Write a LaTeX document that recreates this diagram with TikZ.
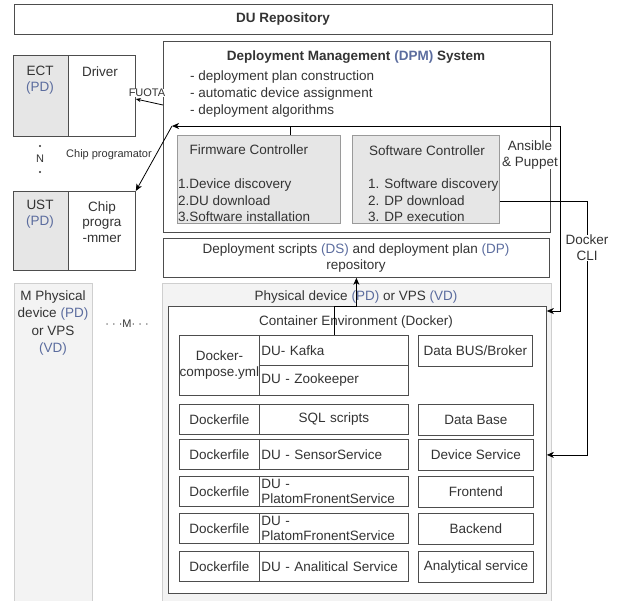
\documentclass[tikz,border=0pt]{standalone}
\usepackage{fontspec}
\setmainfont{Liberation Sans}
\usetikzlibrary{positioning, arrows.meta}
\definecolor{duText}{HTML}{333333}
\definecolor{duLine}{HTML}{4D4D4D}
\definecolor{duGray}{HTML}{E6E6E6}
\definecolor{duGrayLine}{HTML}{9A9A9A}
\definecolor{duPale}{HTML}{F3F3F3}
\definecolor{duPaleLine}{HTML}{CFCFCF}
\definecolor{duAcc}{HTML}{5B6C9E}
\newcommand{\duabbr}[1]{\textcolor{duAcc}{#1}}

\begin{document}
\begin{tikzpicture}[
  x=1pt, y=-1pt,
  every node/.style={font=\fontsize{13.5}{16}\selectfont, text=duText, inner sep=0pt},
  frame/.style={draw=duLine, line width=0.8pt, anchor=north west},
  greybox/.style={frame, fill=duGray},
  ctrlbox/.style={draw=duGrayLine, line width=0.8pt, fill=duGray, anchor=north west},
  palebox/.style={draw=duPaleLine, line width=0.8pt, fill=duPale, anchor=north west},
  cell/.style={frame, minimum height=30pt},
  headtxt/.style={font=\fontsize{13.5}{16}\selectfont\bfseries},
  tinylbl/.style={font=\fontsize{11}{13}\selectfont, fill=white},
  conn/.style={draw=black, line width=0.8pt},
  arr/.style={-{Stealth[length=7pt, width=6pt, inset=2pt]}},
]
\useasboundingbox (0,0) rectangle (617,600);

% === REPOSITORY ===
\node[frame, minimum width=538pt, minimum height=30pt] (du) at (14,4) {};
\node[headtxt] (du-txt) at (283,19) {DU Repository};

% === DPM SYSTEM ===
\node[frame, minimum width=387pt, minimum height=191pt] (dpm) at (163,41) {};
\node[headtxt] (dpm-txt) at (356,57) {Deployment Management \duabbr{(DPM)} System};
\foreach \t [count=\i] in {deployment plan construction, automatic device assignment, deployment algorithms} {
  \node[anchor=west] (dpm-\i) at (190,60+17*\i) {- \t};
}

% Controllers
\node[ctrlbox, minimum width=163pt, minimum height=88pt] (fw) at (177,135) {};
\node (fw-txt) at (249,150) {Firmware Controller};
\foreach \t [count=\i] in {1.Device discovery, 2.DU download, 3.Software installation} {
  \node[anchor=west] (fw-\i) at (178,169+16*\i) {\t};
}
\node[ctrlbox, minimum width=147pt, minimum height=88pt] (sw) at (352,135) {};
\node (sw-txt) at (427,151) {Software Controller};
\foreach \t [count=\i] in {1. Software discovery, 2. DP download, 3. DP execution} {
  \node[anchor=west] (sw-\i) at (368,169+16*\i) {\t};
}

% DS / DP repository
\node[frame, minimum width=386pt, minimum height=39pt] (ds) at (163,238) {};
\node[align=center] (ds-txt) at (356,258)
  {Deployment scripts \duabbr{(DS)} and deployment plan \duabbr{(DP)}\\repository};

% === DEVICES ON THE LEFT ===
\node[greybox, minimum width=55pt, minimum height=81pt] (ect-l) at (13,55) {};
\node[frame, minimum width=67pt, minimum height=81pt] (ect-r) at (68,55) {};
\node[align=center] (ect-txt) at (40,80) {ECT\\\duabbr{(PD)}};
\node (drv-txt) at (100,72) {Driver};

\node[circle, fill=duText, minimum size=2.4pt] (n-dot1) at (40,146) {};
\node[font=\fontsize{11}{13}\selectfont] (n-txt) at (40,159) {N};
\node[circle, fill=duText, minimum size=2.4pt] (n-dot2) at (40,172) {};

\node[greybox, minimum width=55pt, minimum height=79pt] (ust-l) at (13,191) {};
\node[frame, minimum width=67pt, minimum height=79pt] (ust-r) at (68,191) {};
\node[align=center] (ust-txt) at (40,214) {UST\\\duabbr{(PD)}};
\node[align=center, font=\fontsize{13.5}{15.5}\selectfont] (chip-txt) at (102,222) {Chip\\progra\\-mmer};

\node[palebox, minimum width=78pt, minimum height=322pt] (mpd) at (14,283) {};
\node[align=center, font=\fontsize{13.5}{17.5}\selectfont] (mpd-txt) at (53,323)
  {M Physical\\device \duabbr{(PD)}\\or VPS\\\duabbr{(VD)}};
\node[font=\fontsize{11}{13}\selectfont] (m-txt) at (127,324) {· · ·M· · ·};

% === PHYSICAL DEVICE / CONTAINERS ===
\node[palebox, minimum width=389pt, minimum height=322pt] (pd) at (162,283) {};
\node (pd-txt) at (356,297) {Physical device \duabbr{(PD)} or VPS \duabbr{(VD)}};
\node[frame, fill=white, minimum width=378pt, minimum height=287pt] (cont) at (168,306) {};
\node (cont-txt) at (356,322) {Container Environment (Docker)};

\node[frame, minimum width=80pt, minimum height=60pt, align=center] (compose) at (179,335) {Docker-\\compose.yml};
\node[cell, minimum width=149pt, text width=145pt, inner xsep=2pt, align=left] (kafka) at (259,335) {DU- Kafka};
\node[cell, minimum width=149pt, text width=145pt, inner xsep=2pt, align=left] (zoo) at (259,365) {DU - Zookeeper};
\node[frame, minimum width=114pt, minimum height=31pt] (bus) at (418,335) {Data BUS/Broker};

\foreach \y/\du/\al/\svc [count=\i] in {
    404/SQL scripts/center/Data Base,
    439/DU - SensorService/left/Device Service,
    476/{DU -\\PlatomFronentService}/left/Frontend,
    513/{DU -\\PlatomFronentService}/left/Backend,
    551/DU - Analitical Service/left/Analytical service} {
  \node[cell, minimum width=80pt] (df-\i) at (179,\y) {Dockerfile};
  \node[cell, minimum width=149pt, text width=145pt, inner xsep=2pt, align=\al,
        font=\fontsize{13.5}{15}\selectfont] (du-\i) at (259,\y) {\du};
  \node[cell, minimum width=115pt, minimum height=31pt] (svc-\i) at (418,\y) {\svc};
}

% === CONNECTORS ===
\coordinate (bus-l) at (172,126);
\coordinate (ans) at (560,0);
\coordinate (cli) at (587,0);
\coordinate (fw-tap) at (290,135);

\draw[conn] (fw-tap) -- (fw-tap |- bus-l);
\draw[conn, arr] (ans |- bus-l) -- (bus-l);
\draw[conn, arr] (ans |- bus-l) -- (ans |- 0,311) -- (cont.east |- 0,311);
\draw[conn, arr] (bus-l) -- (ust-r.north east);
\draw[conn, -{Stealth[length=5pt, width=4pt, inset=1.5pt]}] (dpm.west |- 0,105) -- (ect-r.east |- 0,99);
\draw[conn, arr] (sw.east |- sw-2) -- (cli |- sw-2) -- (cli |- svc-2) -- (cont.east |- svc-2);
\draw[conn, arr] (kafka.north) -- (kafka.north |- cont.north) -- (ds.south |- cont.north) -- (ds.south);

% Labels on connectors
\node[tinylbl] (fuota) at (147,93) {FUOTA};
\node[tinylbl] (chip-lbl) at (109,155) {Chip programator};
\node[fill=white, align=center] (ans-lbl) at (530,155) {Ansible\\\& Puppet};
\node[fill=white, align=center] (cli-lbl) at (587,248) {Docker\\CLI};

\end{tikzpicture}
\end{document}
